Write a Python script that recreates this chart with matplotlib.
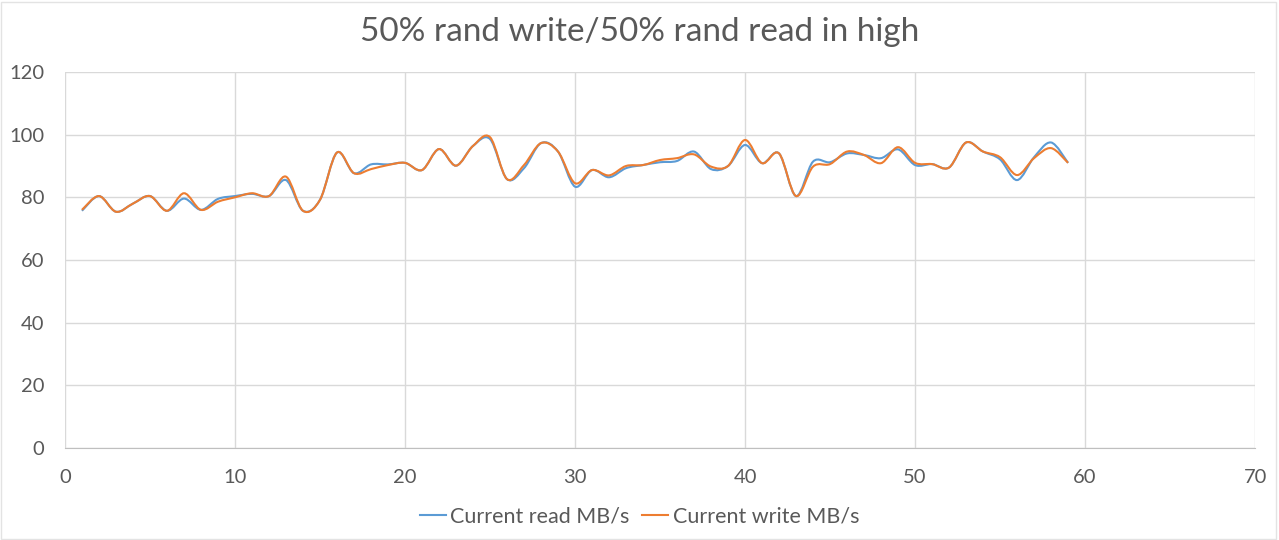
import matplotlib.pyplot as plt
from matplotlib.path import Path
from matplotlib.patches import PathPatch, Rectangle
from matplotlib.lines import Line2D

# seconds and throughput readings
seconds = list(range(1, 60))
read_mbs = [75.7, 80.4, 75.4, 78.0, 80.4, 75.7, 79.6, 76.0, 79.5, 80.4,
            81.1, 80.4, 85.5, 75.7, 79.2, 94.3, 87.7, 90.5, 90.5, 91.0,
            88.7, 95.4, 90.1, 96.4, 98.6, 85.8, 89.3, 97.3, 94.6, 83.4,
            88.7, 86.4, 89.3, 90.3, 91.2, 91.6, 94.6, 89.0, 90.0, 96.7,
            90.9, 94.0, 80.4, 91.4, 91.2, 94.0, 93.5, 92.5, 95.3, 90.3,
            90.6, 89.5, 97.5, 94.6, 92.1, 85.5, 92.8, 97.5, 91.0]
write_mbs = [76.0, 80.4, 75.4, 78.0, 80.4, 75.7, 81.3, 76.0, 78.6, 80.0,
             81.3, 80.4, 86.6, 75.7, 79.2, 94.3, 87.7, 89.0, 90.3, 91.0,
             88.7, 95.4, 90.1, 96.4, 99.2, 85.8, 90.3, 97.3, 94.6, 84.5,
             88.7, 87.0, 90.0, 90.3, 91.9, 92.5, 93.7, 89.8, 90.0, 98.3,
             90.9, 94.0, 80.4, 89.8, 90.6, 94.6, 93.5, 90.9, 96.0, 91.0,
             90.6, 89.5, 97.5, 94.6, 92.8, 87.1, 92.5, 95.7, 91.0]

BLUE = '#5B9BD5'
ORANGE = '#ED7D31'


def smooth_path(xs, ys):
    # excel style smoothed line: bezier segments through every point
    verts = [(xs[0], ys[0])]
    codes = [Path.MOVETO]
    n = len(xs)
    for i in range(n - 1):
        x0, y0 = xs[max(i - 1, 0)], ys[max(i - 1, 0)]
        x1, y1 = xs[i], ys[i]
        x2, y2 = xs[i + 1], ys[i + 1]
        x3, y3 = xs[min(i + 2, n - 1)], ys[min(i + 2, n - 1)]
        c1 = (x1 + (x2 - x0) / 6, y1 + (y2 - y0) / 6)
        c2 = (x2 - (x3 - x1) / 6, y2 - (y3 - y1) / 6)
        verts += [c1, c2, (x2, y2)]
        codes += [Path.CURVE4] * 3
    return Path(verts, codes)


plt.rcParams['font.family'] = ['Lato', 'DejaVu Sans']

fig = plt.figure(figsize=(12.79, 5.4), dpi=100)
ax = fig.add_axes([0.0508, 0.1704, 0.9305, 0.6963])

# faint chart border
fig.patches.append(Rectangle((0.001, 0.002), 0.997, 0.995, transform=fig.transFigure,
                             fill=False, edgecolor='#E3E3E3', lw=1))

ax.add_patch(PathPatch(smooth_path(seconds, read_mbs), fill=False,
                       edgecolor=BLUE, lw=1.5, zorder=3))
ax.add_patch(PathPatch(smooth_path(seconds, write_mbs), fill=False,
                       edgecolor=ORANGE, lw=1.5, zorder=4))

ax.set_xlim(0, 70)
ax.set_ylim(0, 120)
ax.set_xticks(range(0, 71, 10))
ax.set_yticks(range(0, 121, 20))
ax.grid(True, color='#D9D9D9', lw=1)
ax.set_axisbelow(True)
for side in ['left', 'right', 'top']:
    ax.spines[side].set_visible(False)
ax.spines['bottom'].set_color('#BFBFBF')
ax.tick_params(length=0, labelsize=14.5, labelcolor='#595959')
ax.tick_params(axis='y', pad=15)
ax.tick_params(axis='x', pad=15)

fig.text(0.5, 0.94, '50% rand write/50% rand read in high', fontsize=24,
         color='#595959', ha='center', va='center')

handles = [Line2D([], [], color=BLUE, lw=1.5),
           Line2D([], [], color=ORANGE, lw=1.5)]
fig.legend(handles, ['Current read MB/s', 'Current write MB/s'],
           loc='center', bbox_to_anchor=(0.5, 0.044), ncol=2, frameon=False,
           fontsize=15.5, labelcolor='#595959', handlelength=1.2,
           handletextpad=0.2, columnspacing=0.6)

plt.savefig('out.png', dpi=100)
plt.close()
